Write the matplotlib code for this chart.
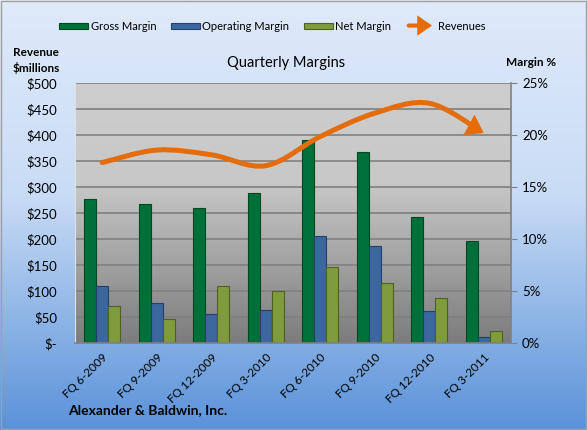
import numpy as np
import matplotlib
matplotlib.use("Agg")
import matplotlib.pyplot as plt
from matplotlib.path import Path
from matplotlib.patches import FancyArrowPatch, Rectangle
from matplotlib.legend_handler import HandlerBase
from matplotlib.colors import LinearSegmentedColormap

plt.rcParams['font.family'] = ['Lato', 'DejaVu Sans']

quarters = ["FQ 6-2009", "FQ 9-2009", "FQ 12-2009", "FQ 3-2010",
            "FQ 6-2010", "FQ 9-2010", "FQ 12-2010", "FQ 3-2011"]
gross_margin = [13.8, 13.4, 13.0, 14.45, 19.5, 18.4, 12.15, 9.85]
operating_margin = [5.5, 3.8, 2.75, 3.2, 10.3, 9.35, 3.1, 0.6]
net_margin = [3.6, 2.3, 5.5, 5.0, 7.35, 5.8, 4.3, 1.2]
revenues = [347, 371, 362, 341, 397, 442, 461, 404]

rev_ticks = list(range(0, 501, 50))
rev_labels = ["$-"] + [f"${v}" for v in rev_ticks[1:]]
pct_ticks = list(range(0, 26, 5))
pct_labels = [f"{v}%" for v in pct_ticks]

W, H = 587, 430
fig = plt.figure(figsize=(W / 100, H / 100), dpi=100)

# figure background gradient
bg = fig.add_axes([0, 0, 1, 1], zorder=-10)
bg_cmap = LinearSegmentedColormap.from_list("bg", [(0, "#dfeafa"), (0.45, "#c9dcf5"), (1, "#5a92d9")])
grad = np.linspace(0, 1, 256).reshape(-1, 1)
bg.imshow(grad, aspect="auto", cmap=bg_cmap, extent=[0, 1, 0, 1], origin="upper")
bg.add_patch(Rectangle((0.002, 0.002), 0.996, 0.995, fill=False, edgecolor="#a0a0a0", lw=1.0))
bg.set_xlim(0, 1); bg.set_ylim(0, 1)
bg.axis("off")

left, right, bottom, top = 75 / W, 511 / W, (H - 343) / H, (H - 83) / H
ax = fig.add_axes([left, bottom, right - left, top - bottom])
ax.patch.set_visible(False)
pa_cmap = LinearSegmentedColormap.from_list("pa", [(0, "#cdcdcd"), (0.38, "#c8c8c8"), (1, "#7c7c7c")])
ax.imshow(grad, aspect="auto", cmap=pa_cmap, extent=[0, 1, 0, 1], origin="upper",
          transform=ax.transAxes, zorder=0)

x = np.arange(len(quarters))
bw = 0.22
ax.bar(x - bw, gross_margin, bw, color="#00703a", edgecolor="#00481f", lw=0.8, zorder=3, label="Gross Margin")
ax.bar(x, operating_margin, bw, color="#3b679c", edgecolor="#23406a", lw=0.8, zorder=3, label="Operating Margin")
ax.bar(x + bw, net_margin, bw, color="#7f9b3b", edgecolor="#4e6122", lw=0.8, zorder=3, label="Net Margin")

ax.set_xlim(-0.5, len(quarters) - 0.5)
ax.set_ylim(0, 25)
ax.set_xticks(x)
ax.set_xticklabels(quarters, rotation=45, ha="right", va="top", rotation_mode="anchor", fontsize=8.5)
ax.tick_params(axis="x", length=0, pad=6)

ax2 = ax.twinx()
ax2.set_ylim(0, 500)
ax2.set_xlim(-0.5, len(quarters) - 0.5)

# right axis: margin %
ax.yaxis.tick_right()
ax.yaxis.set_label_position("right")
ax.set_yticks(np.arange(0, 25.1, 2.5), minor=True)
ax.set_yticks(pct_ticks)
ax.set_yticklabels(pct_labels)
ax.grid(axis="y", which="both", color="#808080", lw=1.2)
ax.set_axisbelow(False)
ax.tick_params(axis="y", which="major", direction="out", length=4, color="#808080",
               labelsize=9.5, pad=4, labelcolor="black", left=False, labelleft=False,
               right=True, labelright=True)
ax.tick_params(axis="y", which="minor", length=0)
for s in ["top", "left", "right", "bottom"]:
    ax.spines[s].set_visible(False)

# left axis: revenue
ax2.yaxis.tick_left()
ax2.set_yticks(rev_ticks)
ax2.set_yticklabels(rev_labels)
ax2.tick_params(axis="y", length=0, labelsize=9.5, pad=13, right=False, labelright=False,
                left=True, labelleft=True)
ax2.spines["top"].set_visible(False)
ax2.spines["left"].set_color("#e0e0e0"); ax2.spines["left"].set_lw(0.8)
ax2.spines["right"].set_color("#808080"); ax2.spines["right"].set_lw(1.2)
ax2.spines["bottom"].set_color("#808080"); ax2.spines["bottom"].set_lw(1.2)

# smoothed revenue curve (Bezier through the data points)
pts = np.column_stack([x, revenues]).astype(float)
verts = [tuple(pts[0])]
codes = [Path.MOVETO]
n = len(pts)
for i in range(n - 1):
    p0 = pts[i - 1] if i > 0 else pts[i]
    p1 = pts[i]
    p2 = pts[i + 1]
    p3 = pts[i + 2] if i + 2 < n else pts[i + 1]
    c1 = p1 + (p2 - p0) / 6.0
    c2 = p2 - (p3 - p1) / 6.0
    verts += [tuple(c1), tuple(c2), tuple(p2)]
    codes += [Path.CURVE4] * 3
path = Path(verts, codes)
arrow = FancyArrowPatch(path=path, arrowstyle="-|>,head_length=1.3,head_width=0.9",
                        mutation_scale=5.5, color="#e46c0a", lw=3.6, transform=ax2.transData,
                        zorder=5, capstyle="round", joinstyle="miter")
ax2.add_patch(arrow)


class ArrowHandler(HandlerBase):
    def create_artists(self, legend, orig_handle, xdescent, ydescent, width, height, fontsize, trans):
        a = FancyArrowPatch((-xdescent, height / 2 - ydescent), (width - xdescent, height / 2 - ydescent),
                            arrowstyle="-|>,head_length=1.3,head_width=0.9", mutation_scale=5,
                            color="#e46c0a", lw=3, transform=trans, joinstyle="miter")
        return [a]


handles, labels = ax.get_legend_handles_labels()
rev_handle = Rectangle((0, 0), 1, 1)
handles.append(rev_handle)
labels.append("Revenues")
fig.legend(handles, labels, loc="center", bbox_to_anchor=(272 / W, 1 - 26 / H), ncol=4, frameon=False,
           fontsize=8, handlelength=2.6, handleheight=0.45, handletextpad=0.25, columnspacing=1.3,
           handler_map={rev_handle: ArrowHandler()})

fig.text(286 / W, 1 - 63 / H, "Quarterly Margins", ha="center", va="center", fontsize=10.5)
fig.text(36 / W, 1 - 52 / H, "Revenue", ha="center", va="center", fontsize=8.5, fontweight="bold")
fig.text(36 / W, 1 - 68 / H, "$millions", ha="center", va="center", fontsize=8.5, fontweight="bold")
fig.text(531 / W, 1 - 63 / H, "Margin %", ha="center", va="center", fontsize=8.5, fontweight="bold")
fig.text(68 / W, 1 - 410 / H, "Alexander & Baldwin, Inc.", ha="left", va="center", fontsize=10,
         fontweight="bold")

fig.savefig("out.png", dpi=100)
